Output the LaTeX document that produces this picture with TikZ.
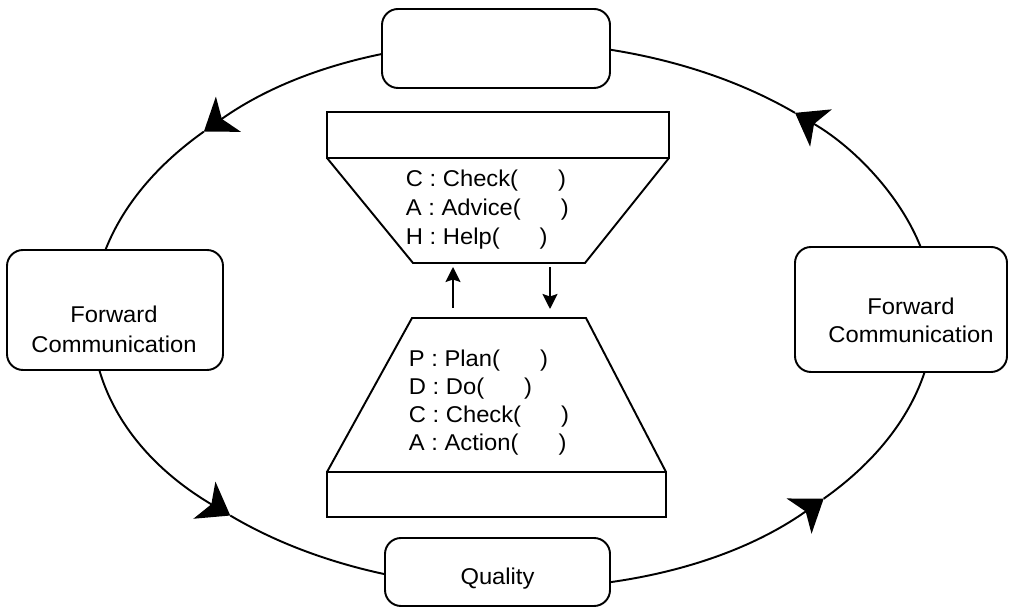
\documentclass[tikz,border=0pt]{standalone}
\usepackage{fontspec}
\setmainfont[FakeStretch=1.04]{Liberation Sans}
\usetikzlibrary{arrows.meta}

\tikzset{
  box/.style={draw, rounded corners=.32cm, fill=white},
  flow/.style={-{Stealth[length=.6cm, width=.86cm, inset=.16cm]}},
  link/.style={-{Stealth[length=.3cm, width=.3cm, inset=.05cm]}},
  lbl/.style={inner sep=0, font=\fontsize{13}{17}\selectfont},
}
\newcommand{\blank}{(\hspace{.8cm})}

\begin{document}
\begin{tikzpicture}[line width=1.1pt]
  \useasboundingbox (0,0) rectangle (20.2,12.18);
  % the ring, one arc per quarter so that each one ends on a tip
  \coordinate (ring) at (10.28,5.88);
  \foreach \s/\e in {-42.5/48, 48/137.6, 137.6/227.5, 227.5/317.5}
    {\draw[flow] (ring) ++(\s:8.4cm and 5.44cm)
       arc[start angle=\s, end angle=\e, x radius=8.4cm, y radius=5.44cm];}
  %
  \node[box, minimum width=4.56cm, minimum height=1.58cm] (top) at (9.92,11.21) {};
  \node[box, minimum width=4.32cm, minimum height=2.4cm] (fwdL) at (2.30,5.98) {};
  \node[box, minimum width=4.24cm, minimum height=2.5cm] (fwdR) at (18.02,5.99) {};
  \node[box, minimum width=4.5cm, minimum height=1.36cm] (quality) at (9.95,0.74) {};
  \node[lbl, anchor=base] (fwdL1) at (2.28,5.73) {Forward};
  \node[lbl, anchor=base] (fwdL2) at (2.28,5.13) {Communication};
  \node[lbl, anchor=base] (fwdR1) at (18.22,5.88) {Forward};
  \node[lbl, anchor=base] (fwdR2) at (18.22,5.32) {Communication};
  \node[lbl, anchor=base] (qual) at (9.95,0.48) {Quality};
  %
  % upper funnel
  \draw (6.54,9.02) rectangle (13.38,9.94);
  \draw (6.54,9.02) -- (8.26,6.92) -- (11.70,6.92) -- (13.38,9.02);
  \foreach \t [count=\i] in {C : Check\blank, A : Advice\blank, H : Help\blank}
    {\node[lbl, anchor=base west] (cah\i) at (8.10,{9.02-.58*\i}) {\t};}
  %
  % lower funnel
  \draw (6.54,1.84) rectangle (13.32,2.74);
  \draw (6.54,2.74) -- (8.24,5.82) -- (11.72,5.82) -- (13.32,2.74);
  \foreach \t [count=\i] in {P : Plan\blank, D : Do\blank, C : Check\blank, A : Action\blank}
    {\node[lbl, anchor=base west] (pdca\i) at (8.16,{5.41-.56*\i}) {\t};}
  %
  \coordinate (up0) at (9.06,6.02);
  \coordinate (up1) at (9.06,6.84);
  \coordinate (dn0) at (11.0,6.84);
  \coordinate (dn1) at (11.0,6.0);
  \draw[link] (up0) -- (up1);
  \draw[link] (dn0) -- (dn1);
\end{tikzpicture}
\end{document}
